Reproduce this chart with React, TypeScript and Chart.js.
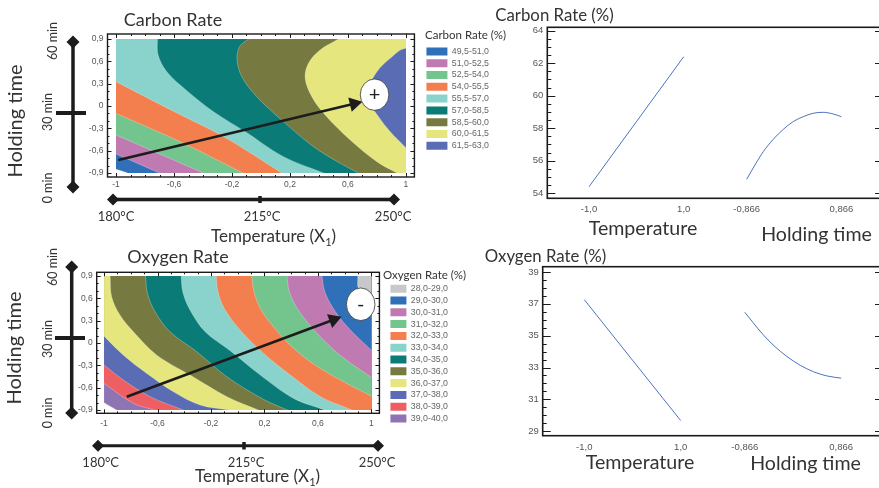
import React, { useEffect, useRef } from "react";
import { Chart, registerables } from "chart.js";

Chart.register(...registerables);

// ---------- data ----------
const carbonBands = ["49,5-51,0", "51,0-52,5", "52,5-54,0", "54,0-55,5", "55,5-57,0", "57,0-58,5", "58,5-60,0", "60,0-61,5", "61,5-63,0"];
const carbonColors = ["#2f70b8", "#c07ab2", "#74c48d", "#f47f4e", "#8ad2cc", "#0a7b76", "#767a40", "#e5e77e", "#5a6cb3"];
const c495 = [[-1, -0.85], [-0.92, -0.9]];
const c510 = [[-1, -0.645], [-0.7, -0.9]];
const c525 = [[-1, -0.39], [-0.397, -0.9]];
const c540 = [[-1, -0.1], [-0.535, -0.5], [-0.125, -0.9]];
const c555 = [[-1, 0.327], [-0.604, -0.07], [-0.25, -0.42], [0.144, -0.9]];
const c570 = [[-0.715, 0.9], [-0.71, 0.685], [-0.65, 0.46], [-0.512, 0.206], [-0.328, -0.076], [-0.098, -0.358], [0.155, -0.681], [0.431, -0.9]];
const c585 = [[-0.086, 0.9], [-0.148, 0.797], [-0.165, 0.618], [-0.132, 0.394], [-0.029, 0.125], [0.155, -0.21], [0.362, -0.546], [0.547, -0.77], [0.673, -0.9]];
const c600 = [[0.535, 0.9], [0.408, 0.752], [0.328, 0.573], [0.305, 0.372], [0.351, 0.125], [0.443, -0.121], [0.616, -0.457], [0.8, -0.748], [0.938, -0.9]];
const c615 = [[3, 1], [1, 0.775], [0.892, 0.64], [0.8, 0.461], [0.75, 0.26], [0.754, 0.036], [0.811, -0.143], [0.892, -0.345], [1, -0.56]];
const carbonBoundaries = [c495, c510, c525, c540, c555, c570, c585, c600, c615];

const oxygenBands = ["28,0-29,0", "29,0-30,0", "30,0-31,0", "31,0-32,0", "32,0-33,0", "33,0-34,0", "34,0-35,0", "35,0-36,0", "36,0-37,0", "37,0-38,0", "38,0-39,0", "39,0-40,0"];
const oxygenColors = ["#c6c8ca", "#2f70b8", "#c07ab2", "#74c48d", "#f47f4e", "#8ad2cc", "#0a7b76", "#767a40", "#e5e77e", "#5a6cb3", "#ee5f63", "#8f74b4"];
const o29 = [[0.898, 0.9], [0.905, 0.73], [1, 0.62]];
const o30 = [[0.63, 0.9], [0.648, 0.708], [0.693, 0.529], [0.768, 0.329], [0.868, 0.128], [1, -0.096]];
const o31 = [[0.368, 0.9], [0.383, 0.708], [0.431, 0.507], [0.518, 0.284], [0.63, 0.061], [0.78, -0.185], [1, -0.462]];
const o32 = [[0.106, 0.9], [0.119, 0.708], [0.169, 0.463], [0.268, 0.217], [0.393, -0.029], [0.568, -0.283], [0.768, -0.497], [1, -0.712]];
const o33 = [[-0.161, 0.9], [-0.151, 0.708], [-0.101, 0.463], [0.019, 0.172], [0.194, -0.14], [0.393, -0.43], [0.618, -0.72], [0.855, -0.9]];
const o34 = [[-0.423, 0.9], [-0.411, 0.686], [-0.356, 0.44], [-0.243, 0.15], [-0.056, -0.104], [0.169, -0.43], [0.418, -0.743], [0.655, -0.9]];
const o35 = [[-0.69, 0.9], [-0.675, 0.663], [-0.618, 0.418], [-0.506, 0.15], [-0.306, -0.118], [-0.081, -0.453], [0.193, -0.756], [0.373, -0.9]];
const o36 = [[-0.955, 0.9], [-0.943, 0.619], [-0.88, 0.373], [-0.78, 0.15], [-0.605, -0.163], [-0.356, -0.43], [-0.081, -0.72], [0.156, -0.9]];
const o37 = [[-1, 0.092], [-0.855, -0.163], [-0.68, -0.408], [-0.481, -0.654], [-0.281, -0.832], [-0.056, -0.9]];
const o38 = [[-1, -0.296], [-0.855, -0.497], [-0.655, -0.72], [-0.406, -0.9]];
const o39 = [[-1, -0.542], [-0.78, -0.81], [-0.618, -0.9]];
const o40 = [[-1, -0.8], [-0.905, -0.9]];
const oxygenBoundaries = [o29, o30, o31, o32, o33, o34, o35, o36, o37, o38, o39, o40];

const contourXTicks = [-1, -0.6, -0.2, 0.2, 0.6, 1];
const contourYTicks = [-0.9, -0.6, -0.3, 0, 0.3, 0.6, 0.9];
const contourXMinor = [-0.9, -0.8, -0.7, -0.5, -0.4, -0.3, -0.1, 0, 0.1, 0.3, 0.4, 0.5, 0.7, 0.8, 0.9];
const contourYMinor = [-0.8, -0.7, -0.5, -0.4, -0.2, -0.1, 0.1, 0.2, 0.4, 0.5, 0.7, 0.8];

const carbonArrow = [[-0.984, -0.726], [0.643, 0.031]];
const oxygenArrow = [[-0.83, -0.72], [0.717, 0.313]];

const tempX = [-1, 0, 1];
const carbonTemp = [54.4, 58.4, 62.4];
const oxygenTemp = [37.26, 33.46, 29.67];
const carbonHoldX = [-0.866, -0.714, -0.562, -0.38, -0.197, -0.015, 0.167, 0.349, 0.532, 0.714, 0.866];
const carbonHold = [54.86, 55.74, 56.56, 57.32, 57.93, 58.41, 58.71, 58.92, 58.98, 58.88, 58.71];
const oxygenHoldX = [-0.866, -0.715, -0.534, -0.323, -0.112, 0.13, 0.371, 0.612, 0.866];
const oxygenHold = [36.47, 35.81, 35.05, 34.31, 33.7, 33.14, 32.73, 32.47, 32.33];
const factorTickLabels = ["-1,0", "1,0", "-0,866", "0,866"];
const factorTicks = [-1, 1, 3.33 - 1, 3.33 + 1];
const carbonYTicks = [54, 56, 58, 60, 62, 64];
const carbonYMinor = [54.5, 55, 55.5, 56.5, 57, 57.5, 58.5, 59, 59.5, 60.5, 61, 61.5, 62.5, 63, 63.5];
const oxygenYTicks = [29, 31, 33, 35, 37, 39];
const oxygenYMinor = [29.5, 30, 30.5, 31.5, 32, 32.5, 33.5, 34, 34.5, 35.5, 36, 36.5, 37.5, 38, 38.5];

// ---------- helpers ----------
const TEXT = "#333";
const LATO = "Lato, Carlito, sans-serif";
const ARIAL = '"Liberation Sans", Arial, sans-serif';
const comma = (v: number) => String(v).replace(".", ",");
// A boundary curve is carried on past the plot edge (invisible, clipped) and closed far outside the plot.
const beyond = (a: number[], b: number[]) => [a[0] + (a[0] - b[0]) * 0.6, a[1] + (a[1] - b[1]) * 0.6];
const closed = (b: number[][]) =>
  [beyond(b[0], b[1]), ...b, beyond(b[b.length - 1], b[b.length - 2]), [3, -3], [3, 3], [-3, 3]].map(([x, y]) => ({ x, y }));
const holdPos = (v: number) => 3.33 + v / 0.866;

const diamond = (ctx: any, x: number, y: number, r: number) => {
  ctx.beginPath();
  ctx.moveTo(x - r, y);
  ctx.lineTo(x, y - r);
  ctx.lineTo(x + r, y);
  ctx.lineTo(x, y + r);
  ctx.closePath();
  ctx.fill();
};

const framePlugin = {
  id: "frameTicks",
  afterDatasetsDraw(chart: any) {
    const o = chart.options.plugins.frameTicks;
    if (!o) return;
    const { ctx, chartArea: a, scales } = chart;
    const x = scales.x;
    const y = scales.y;
    ctx.save();
    ctx.strokeStyle = "#1a1a1a";
    ctx.lineWidth = 1;
    const seg = (x1: number, y1: number, x2: number, y2: number) => {
      ctx.beginPath();
      ctx.moveTo(x1, y1);
      ctx.lineTo(x2, y2);
      ctx.stroke();
    };
    const vert = (list: number[], len: number) =>
      list.forEach((v) => {
        const p = Math.round(y.getPixelForValue(v)) + 0.5;
        seg(a.left, p, a.left + len, p);
        seg(a.right, p, a.right - len, p);
      });
    const horiz = (list: number[], len: number) =>
      list.forEach((v) => {
        const p = Math.round(x.getPixelForValue(v)) + 0.5;
        seg(p, a.top, p, a.top + len);
        seg(p, a.bottom, p, a.bottom - len);
      });
    vert(o.yMajor, o.major);
    vert(o.yMinor, o.minor);
    horiz(o.xMajor, o.major);
    horiz(o.xMinor, o.minor);
    ctx.lineWidth = o.width;
    ctx.strokeRect(a.left, a.top, a.right - a.left, a.bottom - a.top);
    ctx.restore();
  },
};

const clipPlugin = {
  id: "dataClip",
  beforeDatasetsDraw(chart: any) {
    const o = chart.options.plugins.dataClip;
    if (!o) return;
    const { ctx, scales } = chart;
    const l = scales.x.getPixelForValue(-1);
    const r = scales.x.getPixelForValue(1);
    const t = scales.y.getPixelForValue(0.9);
    const b = scales.y.getPixelForValue(-0.9);
    ctx.save();
    ctx.beginPath();
    ctx.rect(l, t, r - l, b - t);
    ctx.clip();
  },
  afterDatasetsDraw(chart: any) {
    if (chart.options.plugins.dataClip) chart.ctx.restore();
  },
};

const overlayPlugin = {
  id: "overlay",
  afterDraw(chart: any) {
    const o = chart.options.plugins.overlay;
    if (!o) return;
    const { ctx, scales } = chart;
    ctx.save();
    ctx.translate(0, -o.top);
    // guide axes
    (o.guides || []).forEach((g: any) => {
      ctx.lineCap = "butt";
      if (g.shadow) {
        ctx.strokeStyle = "#bdbdbd";
        ctx.lineWidth = g.w + 2;
        ctx.beginPath();
        ctx.moveTo(g.x1, g.y1);
        ctx.lineTo(g.x2, g.y2);
        ctx.stroke();
      }
      ctx.strokeStyle = "#1c1c1c";
      ctx.fillStyle = "#1c1c1c";
      ctx.lineWidth = g.w;
      ctx.beginPath();
      ctx.moveTo(g.x1, g.y1);
      ctx.lineTo(g.x2, g.y2);
      ctx.stroke();
      if (g.d) {
        diamond(ctx, g.x1, g.y1, g.d);
        diamond(ctx, g.x2, g.y2, g.d);
      }
    });
    // marker ellipse
    if (o.marker) {
      const m = o.marker;
      const cx = scales.x.getPixelForValue(m.x);
      const cy = scales.y.getPixelForValue(m.y) + o.top;
      ctx.beginPath();
      ctx.ellipse(cx, cy, m.rx, m.ry, 0, 0, Math.PI * 2);
      ctx.fillStyle = "#fff";
      ctx.fill();
      ctx.strokeStyle = "#333";
      ctx.lineWidth = 0.8;
      ctx.stroke();
      ctx.fillStyle = "#222";
      ctx.font = m.size + "px " + LATO;
      ctx.textAlign = "center";
      ctx.textBaseline = "middle";
      ctx.fillText(m.text, cx, cy);
    }
    // text
    (o.texts || []).forEach((t: any) => {
      ctx.save();
      ctx.translate(t.x, t.y);
      if (t.rot) ctx.rotate(t.rot);
      ctx.fillStyle = t.color || TEXT;
      ctx.font = t.size + "px " + (t.family || LATO);
      ctx.textBaseline = "middle";
      ctx.textAlign = t.align || "center";
      ctx.fillText(t.text, 0, 0);
      if (t.sub) {
        const w = ctx.measureText(t.text).width;
        ctx.textAlign = "left";
        ctx.font = t.size * 0.65 + "px " + LATO;
        ctx.fillText(t.sub, w, t.size * 0.3);
        const w2 = ctx.measureText(t.sub).width;
        ctx.font = t.size + "px " + LATO;
        ctx.fillText(")", w + w2, 0);
      }
      ctx.restore();
    });
    ctx.restore();
  },
};

const fixed = (prop: string, size: number) => (scale: any) => {
  scale[prop] = size;
};

const noGrid = { display: false, drawTicks: false };

function contourConfig(c: any) {
  const n = c.bands.length;
  const datasets: any[] = c.boundaries.map((b: number[][], i: number) => ({
    label: c.bands[i],
    data: closed(b),
    showLine: true,
    fill: "shape",
    backgroundColor: c.colors[i],
    borderColor: "rgba(255,255,255,0.35)",
    borderWidth: 0.8,
    pointRadius: 0,
    tension: 0.35,
    order: c.reverse ? -i : i,
  }));
  datasets.push({
    label: "direction",
    data: c.arrow.map(([x, y]: number[]) => ({ x, y })),
    showLine: true,
    fill: false,
    borderColor: "#1c1c1c",
    borderWidth: 2.6,
    pointRadius: [0, 8.5],
    pointRotation: [0, c.arrowRot],
    pointStyle: "triangle",
    pointBackgroundColor: "#1c1c1c",
    pointBorderWidth: 0,
    order: -100,
  });
  return {
    type: "scatter",
    data: { datasets },
    plugins: [clipPlugin, framePlugin, overlayPlugin],
    options: {
      animation: false,
      responsive: false,
      maintainAspectRatio: false,
      events: [],
      layout: { padding: { top: c.frame.top - c.top, left: 0, right: 0, bottom: 0 } },
      scales: {
        x: {
          type: "linear",
          min: c.xMin,
          max: c.xMax,
          afterBuildTicks: (s: any) => {
            s.ticks = contourXTicks.map((value) => ({ value }));
          },
          afterFit: fixed("height", c.height + c.top - c.frame.bottom),
          grid: noGrid,
          border: { display: false },
          ticks: { autoSkip: false, maxRotation: 0, padding: c.xPad, color: "#555", font: { family: ARIAL, size: 8.5 }, callback: comma },
        },
        y: {
          type: "linear",
          min: c.yMin,
          max: c.yMax,
          afterBuildTicks: (s: any) => {
            s.ticks = contourYTicks.map((value) => ({ value }));
          },
          afterFit: fixed("width", c.frame.left),
          grid: noGrid,
          border: { display: false },
          ticks: { autoSkip: false, padding: c.yPad, color: "#555", font: { family: ARIAL, size: 8.5 }, callback: comma },
        },
        gap: {
          type: "linear",
          position: "right",
          afterFit: fixed("width", c.legendGap),
          grid: noGrid,
          border: { display: false },
          ticks: { display: false },
        },
      },
      plugins: {
        tooltip: { enabled: false },
        title: { display: false },
        dataClip: {},
        frameTicks: { xMajor: contourXTicks, xMinor: contourXMinor, yMajor: contourYTicks, yMinor: contourYMinor, major: 4, minor: 2, width: 1.4 },
        overlay: { top: c.top, guides: c.guides, texts: c.texts, marker: c.marker },
        legend: {
          display: true,
          position: "right",
          align: "start",
          title: { display: true, text: " ", font: { size: c.legendTitleH, lineHeight: 1 }, padding: 0 },
          labels: {
            boxWidth: c.swatchW,
            boxHeight: 8,
            padding: 3,
            color: "#444",
            font: { family: ARIAL, size: 8.8 },
            generateLabels: () =>
              Array.from({ length: n }, (_, i) => ({
                text: c.bands[i],
                fillStyle: c.colors[i],
                strokeStyle: "transparent",
                lineWidth: 0,
                hidden: false,
                datasetIndex: i,
              })),
          },
        },
      },
    },
  };
}

function lineConfig(c: any) {
  const mk = (label: string, xs: number[], ys: number[]) => ({
    label,
    data: xs.map((x, i) => ({ x, y: ys[i] })),
    showLine: true,
    fill: false,
    borderColor: "#4a74bd",
    borderWidth: 1,
    pointRadius: 0,
    cubicInterpolationMode: "monotone",
  });
  return {
    type: "scatter",
    data: {
      datasets: [mk("Temperature", tempX, c.temp), mk("Holding time", c.holdX.map(holdPos), c.hold)],
    },
    plugins: [framePlugin, overlayPlugin],
    options: {
      animation: false,
      responsive: false,
      maintainAspectRatio: false,
      events: [],
      layout: { padding: { top: c.frame.top - c.top, left: 0, right: 0, bottom: 0 } },
      scales: {
        x: {
          type: "linear",
          min: c.xMin,
          max: c.xMax,
          afterBuildTicks: (s: any) => {
            s.ticks = factorTicks.map((value) => ({ value }));
          },
          afterFit: fixed("height", c.height + c.top - c.frame.bottom),
          grid: noGrid,
          border: { display: false },
          ticks: { autoSkip: false, maxRotation: 0, padding: c.xPad, color: "#555", font: { family: ARIAL, size: 9.5 }, callback: (_: any, i: number) => factorTickLabels[i] },
        },
        y: {
          type: "linear",
          min: c.yMin,
          max: c.yMax,
          afterBuildTicks: (s: any) => {
            s.ticks = c.yTicks.map((value: number) => ({ value }));
          },
          afterFit: fixed("width", c.frame.left),
          grid: noGrid,
          border: { display: false },
          ticks: { autoSkip: false, padding: 4, color: "#555", font: { family: ARIAL, size: 9.5 }, callback: comma },
        },
      },
      plugins: {
        tooltip: { enabled: false },
        legend: { display: false },
        title: { display: false },
        frameTicks: { xMajor: [], xMinor: [], yMajor: c.yTicks, yMinor: c.yMinor, major: 8, minor: 4, width: 1.6 },
        overlay: { top: c.top, texts: c.texts },
      },
    },
  };
}

const ROT = -Math.PI / 2;

const carbonContour = {
  bands: carbonBands,
  colors: carbonColors,
  boundaries: carbonBoundaries,
  reverse: true,
  arrow: carbonArrow,
  arrowRot: 76.5,
  top: 0,
  height: 248,
  frame: { left: 107.5, right: 414, top: 34, bottom: 177 },
  xMin: -1.059,
  xMax: 1.059,
  yMin: -0.954,
  yMax: 0.967,
  xPad: 3,
  yPad: 4,
  legendGap: 9,
  legendTitleH: 10,
  swatchW: 21,
  marker: { x: 0.784, y: 0.152, rx: 14.3, ry: 15.7, text: "+", size: 20 },
  guides: [
    { x1: 73, y1: 42, x2: 73, y2: 187, w: 3.5, d: 6.5 },
    { x1: 56, y1: 113, x2: 86, y2: 113, w: 4 },
    { x1: 113, y1: 199.5, x2: 394, y2: 199.5, w: 3, d: 6, shadow: true },
    { x1: 260, y1: 196, x2: 260, y2: 203, w: 3.5 },
  ],
  texts: [
    { text: "Carbon Rate", x: 173, y: 20, size: 18 },
    { text: "Holding time", x: 16, y: 121, size: 20, rot: ROT },
    { text: "60 min", x: 52.7, y: 41, size: 12.5, rot: ROT },
    { text: "30 min", x: 47.7, y: 112, size: 12.5, rot: ROT },
    { text: "0 min", x: 48, y: 188, size: 12.5, rot: ROT },
    { text: "180°C", x: 116, y: 217, size: 13 },
    { text: "215°C", x: 262, y: 217, size: 13 },
    { text: "250°C", x: 393, y: 217, size: 13 },
    { text: "Temperature (X", x: 211, y: 237, size: 17, align: "left", sub: "1" },
  ],
};

const oxygenContour = {
  bands: oxygenBands,
  colors: oxygenColors,
  boundaries: oxygenBoundaries,
  reverse: false,
  arrow: oxygenArrow,
  arrowRot: 69.5,
  top: 240,
  height: 248,
  frame: { left: 96.7, right: 379, top: 272.3, bottom: 413.3 },
  xMin: -1.055,
  xMax: 1.06,
  yMin: -0.943,
  yMax: 0.949,
  xPad: 5,
  yPad: 4,
  legendGap: 8,
  legendTitleH: 9,
  swatchW: 16,
  marker: { x: 0.92, y: 0.52, rx: 14.3, ry: 16.3, text: "-", size: 20 },
  guides: [
    { x1: 71.7, y1: 267, x2: 71.7, y2: 413, w: 3.5, d: 6.5 },
    { x1: 55, y1: 338, x2: 85, y2: 338, w: 4 },
    { x1: 98, y1: 445.7, x2: 378, y2: 445.7, w: 3, d: 6 },
    { x1: 244, y1: 442, x2: 244, y2: 449.5, w: 3.5 },
  ],
  texts: [
    { text: "Oxygen Rate", x: 178, y: 257, size: 18 },
    { text: "Holding time", x: 15, y: 348, size: 20, rot: ROT },
    { text: "60 min", x: 52.7, y: 267, size: 12.5, rot: ROT },
    { text: "30 min", x: 47.7, y: 339, size: 12.5, rot: ROT },
    { text: "0 min", x: 47.7, y: 413, size: 12.5, rot: ROT },
    { text: "180°C", x: 100.7, y: 463, size: 13 },
    { text: "215°C", x: 246, y: 463, size: 13 },
    { text: "250°C", x: 377, y: 463, size: 13 },
    { text: "Temperature (X", x: 195, y: 477, size: 17, align: "left", sub: "1" },
  ],
};

const carbonLine = {
  top: 0,
  height: 248,
  width: 883,
  frame: { left: 547.3, right: 883, top: 27.3, bottom: 198.3 },
  xMin: -1.881,
  xMax: 5.209,
  yMin: 53.69,
  yMax: 64.21,
  xPad: 5,
  temp: carbonTemp,
  holdX: carbonHoldX,
  hold: carbonHold,
  yTicks: carbonYTicks,
  yMinor: carbonYMinor,
  texts: [
    { text: "Carbon Rate (%)", x: 425, y: 35, size: 11.5, align: "left" },
    { text: "Carbon Rate (%)", x: 554.5, y: 16, size: 16.8 },
    { text: "Temperature", x: 643, y: 229, size: 19.6 },
    { text: "Holding time", x: 816.5, y: 235, size: 19.6 },
  ],
};

const oxygenLine = {
  top: 240,
  height: 248,
  width: 883,
  frame: { left: 542.7, right: 883, top: 266.7, bottom: 435.7 },
  xMin: -1.863,
  xMax: 5.197,
  yMin: 28.72,
  yMax: 39.33,
  xPad: 6,
  temp: oxygenTemp,
  holdX: oxygenHoldX,
  hold: oxygenHold,
  yTicks: oxygenYTicks,
  yMinor: oxygenYMinor,
  texts: [
    { text: "Oxygen Rate (%)", x: 383, y: 275, size: 11.5, align: "left" },
    { text: "Oxygen Rate (%)", x: 545.5, y: 257, size: 16.8 },
    { text: "Temperature", x: 640, y: 463, size: 19.6 },
    { text: "Holding time", x: 805.5, y: 464, size: 19.6 },
  ],
};

function Panel({ kind, spec }: { kind: "contour" | "line"; spec: any }) {
  const ref = useRef<HTMLCanvasElement>(null);
  useEffect(() => {
    const canvas = ref.current!;
    const cfg: any = kind === "contour" ? contourConfig(spec) : lineConfig(spec);
    const chart: any = new Chart(canvas, cfg);
    if (kind === "contour") {
      const need = Math.round(spec.frame.right + spec.legendGap + chart.legend.width);
      chart.resize(need, spec.height);
    }
    return () => chart.destroy();
  }, [kind, spec]);
  return (
    <canvas
      ref={ref}
      width={kind === "contour" ? 560 : spec.width}
      height={spec.height}
      style={{ position: "absolute", left: 0, top: spec.top }}
    />
  );
}

export default function App() {
  return (
    <div style={{ position: "fixed", left: 0, top: 0, width: 879, height: 488, overflow: "hidden", background: "#fff" }}>
      <Panel kind="contour" spec={carbonContour} />
      <Panel kind="contour" spec={oxygenContour} />
      <Panel kind="line" spec={carbonLine} />
      <Panel kind="line" spec={oxygenLine} />
    </div>
  );
}
